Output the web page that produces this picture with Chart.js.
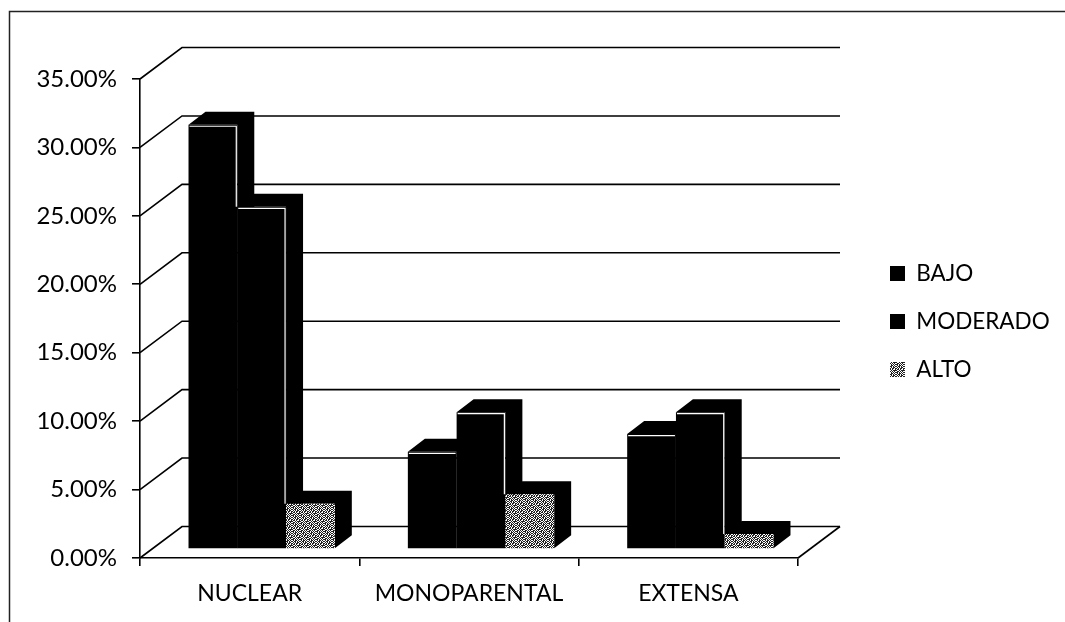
<!DOCTYPE html>
<html><head><meta charset="utf-8">
<style>html,body{margin:0;padding:0;background:#fff}canvas{display:block}</style>
<script src="https://cdn.jsdelivr.net/npm/chart.js@4"></script>
</head><body>
<div style="width:1065px;height:622px;position:relative"><canvas id="c" width="1065" height="622"></canvas></div>
<script>
const categories = ['NUCLEAR','MONOPARENTAL','EXTENSA'];
const seriesNames = ['BAJO','MODERADO','ALTO'];
const bajo = [31, 7.1, 8.4];
const moderado = [25, 10, 10];
const alto = [3.3, 4, 1.1];
const yTicksStep = 5, yMax = 35;

function ditherPattern(){
  const rows = ['#.#.##.#','.##.#..#','#..#.###','.##.#.#.','##.#.#.#','.#.##.#.','#.##.#.#','.#.#.##.'];
  const t = document.createElement('canvas'); t.width = t.height = 8;
  const g = t.getContext('2d'); g.fillStyle = '#fff'; g.fillRect(0,0,8,8); g.fillStyle = '#222';
  rows.forEach((r,y)=>[...r].forEach((ch,x)=>{ if(ch==='#') g.fillRect(x,y,1,1); }));
  return g.createPattern(t,'repeat');
}
const ctx = document.getElementById('c').getContext('2d');
const WALL = {dx:42, dy:-31.5}, PLANE = {dx:12, dy:-9}, DEPTH = {dx:17, dy:-13};

function drawBars(chart,i){
  const c = chart.ctx, meta = chart.getDatasetMeta(i);
  c.save(); c.translate(PLANE.dx,PLANE.dy);
  c.fillStyle = '#000';
  meta.data.forEach(b=>{
    const l=b.x-b.width/2, r=b.x+b.width/2, t=b.y, s=b.base;
    c.beginPath(); c.moveTo(l,t); c.lineTo(l+DEPTH.dx,t+DEPTH.dy); c.lineTo(r+DEPTH.dx,t+DEPTH.dy); c.lineTo(r+DEPTH.dx,s+DEPTH.dy); c.lineTo(r,s); c.lineTo(r,t); c.closePath(); c.fill();
  });
  meta.controller.draw();
  if(i<2){
    const next = chart.getDatasetMeta(i+1).data;
    c.strokeStyle='#fff'; c.lineWidth=1.2;
    meta.data.forEach((b,k)=>{
      const l=b.x-b.width/2, r=b.x+b.width/2, end=next[k].y;
      c.beginPath(); c.moveTo(l+1,b.y+1.5); c.lineTo(r-1,b.y+1.5);
      if(end>b.y) c.lineTo(r-1,end);
      c.stroke();
    });
  }
  c.restore();
}
const scene = {
  id:'scene',
  afterInit(chart){ const lg=chart.legend, f=lg.fit; lg.fit=function(){ f.call(this); this.width=267; }; },
  afterLayout(chart){ chart.legend.left = 890 - 25.5; chart.legend.top -= 29; chart.legend.bottom -= 29; },
  beforeDatasetsDraw(chart){
    const {ctx:c, scales:{x,y}} = chart;
    c.save(); c.strokeStyle = '#000'; c.lineWidth = 1.6;
    y.ticks.forEach(t=>{
      const py = y.getPixelForValue(t.value);
      c.beginPath(); c.moveTo(x.left,py); c.lineTo(x.left+WALL.dx,py+WALL.dy); c.lineTo(x.right+WALL.dx,py+WALL.dy); c.stroke();
    });
    const p0 = y.getPixelForValue(0);
    c.beginPath(); c.moveTo(x.right,p0); c.lineTo(x.right+WALL.dx,p0+WALL.dy); c.stroke();
    c.restore();
    chart.data.datasets.forEach((d,i)=>drawBars(chart,i));
  },
  beforeDatasetDraw(){ return false; },
  afterDraw(chart){
    const c=chart.ctx; c.save(); c.strokeStyle='#222'; c.lineWidth=1.5;
    c.beginPath(); c.moveTo(9.5,622); c.lineTo(9.5,11.5); c.lineTo(1065,11.5); c.stroke(); c.restore();
  }
};
new Chart(ctx,{
  type:'bar',
  plugins:[scene],
  data:{labels:categories,datasets:[
    {label:seriesNames[0],data:bajo,backgroundColor:'#000'},
    {label:seriesNames[1],data:moderado,backgroundColor:'#000'},
    {label:seriesNames[2],data:alto,backgroundColor:ditherPattern()}
  ]},
  options:{
    responsive:false,animation:false,
    layout:{autoPadding:false,padding:{top:79,left:0,right:0,bottom:0}},
    datasets:{bar:{categoryPercentage:0.667,barPercentage:1,borderWidth:0}},
    plugins:{
      legend:{position:'right',labels:{boxWidth:15,boxHeight:15,padding:25.5,color:'#000',font:{family:'Lato',size:22.5}}},
      tooltip:{enabled:false}
    },
    scales:{
      x:{afterFit(s){s.height=64;},grid:{drawOnChartArea:false,drawTicks:true,tickLength:8,color:'#000',lineWidth:1.6},border:{color:'#000',width:1.6},
        ticks:{color:'#000',padding:14,maxRotation:0,font:{family:'Lato',size:23}}},
      y:{min:0,max:yMax,afterFit(s){s.width=140;},grid:{drawOnChartArea:false,drawTicks:true,tickLength:8,color:'#000',lineWidth:1.6},border:{color:'#000',width:1.6},
        ticks:{stepSize:yTicksStep,color:'#000',padding:15,font:{family:'Lato',size:24},callback:v=>v.toFixed(2)+'%'}}
    }
  }
});
</script></body></html>
